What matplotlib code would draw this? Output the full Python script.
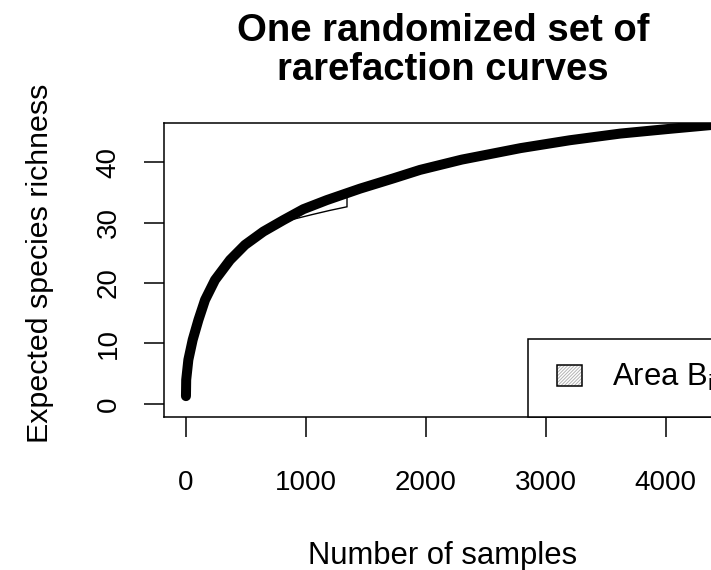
import matplotlib
matplotlib.use("Agg")
import matplotlib.pyplot as plt
from matplotlib.patches import Patch, Polygon, Rectangle

plt.rcParams["font.family"] = ["Liberation Sans", "DejaVu Sans"]
plt.rcParams["mathtext.fontset"] = "custom"
plt.rcParams["mathtext.rm"] = "Liberation Sans"
plt.rcParams["mathtext.it"] = "Liberation Sans"
plt.rcParams["hatch.linewidth"] = 0.7

# rarefaction curve
samples = [1, 3, 21, 57, 105, 160, 243, 368, 493, 646, 813, 979, 1174,
           1452, 1730, 1952, 2300, 2790, 3200, 3620, 4040, 4370, 4470]
richness = [1.3, 4, 7.3, 10.6, 13.9, 17.2, 20.5, 23.8, 26.3, 28.5, 30.4,
            32.2, 33.7, 35.6, 37.3, 38.7, 40.4, 42.3, 43.6, 44.7, 45.5,
            46.1, 46.3]

# outline of area B_i (below the curve)
area_x = [868, 979, 1174, 1343, 1343, 1200, 1050, 868]
area_y = [31.0, 32.2, 33.7, 34.9, 32.6, 32.0, 31.3, 30.4]

xticks = [0, 1000, 2000, 3000, 4000]
yticks = [0, 10, 20, 30, 40]


class HatchKey:
    """Small hatched square, inset a bit from the left of the handle box."""
    def legend_artist(self, legend, orig_handle, fontsize, handlebox):
        x0, y0 = -handlebox.xdescent, -handlebox.ydescent
        w, h = handlebox.width, handlebox.height
        off = 0.2 * fontsize
        tr = handlebox.get_transform()
        fill = Rectangle((x0 + off, y0), w - off, h, facecolor="white",
                         edgecolor="0.7", hatch="/" * 10, lw=0, transform=tr)
        box = Rectangle((x0 + off, y0), w - off, h, facecolor="none",
                        edgecolor="black", lw=1.1, transform=tr)
        handlebox.add_artist(fill)
        handlebox.add_artist(box)
        return box


fig = plt.figure(figsize=(7.11, 5.70), dpi=100)
ax = fig.add_axes([164/711, 1 - 416.5/570, 558/711, 293.2/570])

ax.add_patch(Polygon(list(zip(area_x, area_y)), closed=True, facecolor="white",
                     edgecolor="black", lw=1.0, zorder=2))
ax.plot(samples, richness, color="black", lw=7.2, solid_capstyle="round",
        solid_joinstyle="round", zorder=3)

ax.set_xlim(-182, 4468)
ax.set_ylim(-2.07, 46.4)
ax.set_xticks(xticks)
ax.set_yticks(yticks)
ax.tick_params(length=14.5, width=1.1, labelsize=20, direction="out")
ax.tick_params(axis="x", pad=24)
ax.tick_params(axis="y", pad=16)
for lab in ax.get_yticklabels():
    lab.set_rotation(90)
    lab.set_va("center")
for s in ax.spines.values():
    s.set_linewidth(1.1)

ax.set_xlabel("Number of samples", fontsize=22.3)
ax.xaxis.set_label_coords(0.5, -0.425)
ax.xaxis.label.set_va("top")
ax.set_ylabel("Expected species richness", fontsize=21.9)
ax.yaxis.set_label_coords(-0.197, 0.5235)

ax.set_title("One randomized set of\nrarefaction curves", fontsize=27.5,
             fontweight="bold", linespacing=1.12, pad=31)

key = Patch(facecolor="white", edgecolor="black", hatch="////")
leg = ax.legend([key], ["Area B$_\\mathregular{i}$"], loc="lower left",
                bbox_to_anchor=((528 - 164) / 558, 0), borderaxespad=0,
                fontsize=22.3, borderpad=0.75, handlelength=1.0, handleheight=0.68,
                handletextpad=0.95, fancybox=False, framealpha=1,
                edgecolor="black", handler_map={Patch: HatchKey()})
leg.get_frame().set_linewidth(1.1)

fig.savefig("out.png", dpi=100)
